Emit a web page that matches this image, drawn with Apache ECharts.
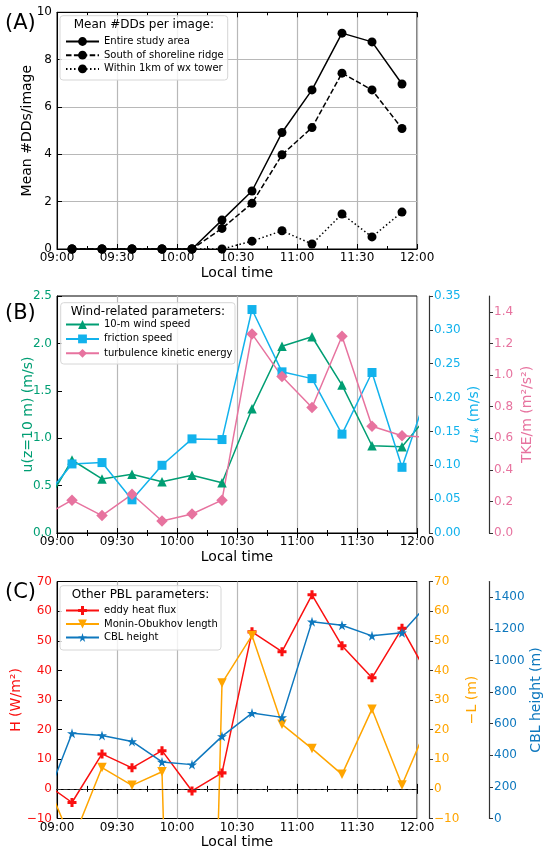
<!DOCTYPE html>
<html>
<head>
<meta charset="utf-8">
<script src="https://cdn.jsdelivr.net/npm/echarts@6/dist/echarts.min.js"></script>
<style>
  html, body { margin: 0; padding: 0; background: #fff; }
  #chart { width: 550px; height: 859px; }
</style>
</head>
<body>
<div id="chart"></div>
<script>
// times in minutes after midnight (09:00 = 540)
var timesA = [547.5, 562.5, 577.5, 592.5, 607.5, 622.5, 637.5, 652.5, 667.5, 682.5, 697.5, 712.5];
var entireArea = [0, 0, 0, 0, 0, 1.22, 2.45, 4.92, 6.72, 9.12, 8.75, 6.97];
var southRidge = [0, 0, 0, 0, 0, 0.87, 1.93, 3.98, 5.13, 7.43, 6.72, 5.09];
var nearTower = [0, 0, 0, 0, 0, 0, 0.33, 0.77, 0.21, 1.48, 0.51, 1.56];

// panels B and C also have one point on each side outside the window
var timesBC = [532.5, 547.5, 562.5, 577.5, 592.5, 607.5, 622.5, 637.5, 652.5, 667.5, 682.5, 697.5, 712.5, 727.5];
var windSpeed = [0.23, 0.77, 0.57, 0.62, 0.54, 0.61, 0.53, 1.31, 1.97, 2.07, 1.56, 0.92, 0.91, 1.29];
var frictionSpeed = [0.047, 0.102, 0.104, 0.049, 0.100, 0.139, 0.138, 0.330, 0.238, 0.228, 0.146, 0.237, 0.097, 0.228];
var tke = [0.10, 0.208, 0.11, 0.245, 0.076, 0.12, 0.208, 1.26, 0.99, 0.794, 1.245, 0.676, 0.615, 0.605];
var heatFlux = [2.6, -4.6, 11.8, 7.1, 12.9, -0.7, 5.4, 53.0, 46.3, 65.5, 48.3, 37.5, 54.2, 36.0];
var negL = [6, -18, 7.2, 1.2, 5.8, -350, 35.7, 51.8, 21.8, 13.6, 4.9, 26.9, 1.3, 25.0];
var cblHeight = [51, 539, 526, 488, 358, 341, 520, 667, 640, 1246, 1223, 1156, 1176, 1386];

var tkeTicks = [0, 0.2, 0.4, 0.6, 0.8, 1.0, 1.2, 1.4];
var cblTicks = [0, 200, 400, 600, 800, 1000, 1200, 1400];

var FONT = 'DejaVu Sans';
var GREEN = '#009E73', CYAN = '#12B2EC', PINK = '#E7739F';
var RED = '#FA1010', ORANGE = '#FFA500', BLUE = '#0E78BE';

var STAR = 'path://M50,0 L61,35 L98,35 L68,57 L79,91 L50,70 L21,91 L32,57 L2,35 L39,35 Z';
var PLUS = 'path://M33,0H67V33H100V67H67V100H33V67H0V33H33Z';

function pairs(xs, ys) {
  return xs.map(function (x, i) { return [x, ys[i]]; });
}
function fmtTime(v) {
  var h = Math.floor(v / 60), m = Math.round(v % 60);
  return (h < 10 ? '0' : '') + h + ':' + (m < 10 ? '0' : '') + m;
}
function minus(s) { return String(s).replace('-', '\u2212'); }

var grids = [
  { left: 57, right: 133, top: 12.3, height: 236.7 },
  { left: 57, right: 133, top: 296, height: 237 },
  { left: 57, right: 133, top: 581.5, height: 237 }
];
grids.forEach(function (g) {
  g.show = true; g.borderColor = '#000'; g.borderWidth = 1; g.backgroundColor = 'transparent';
  g.containLabel = false; g.outerBoundsMode = 'none';
});

var xAxes = [];
[0, 1, 2].forEach(function (gi) {
  xAxes.push({
    type: 'value', gridIndex: gi, min: 540, max: 720, interval: 30,
    axisLine: { lineStyle: { color: '#000', width: 1 } },
    axisTick: { inside: true, length: 5, lineStyle: { color: '#000' } },
    minorTick: { show: true, splitNumber: 2, length: 3, lineStyle: { color: '#000' } },
    axisLabel: { formatter: fmtTime, color: '#000', fontSize: 12, margin: 3, fontFamily: FONT },
    splitLine: { show: true, lineStyle: { color: '#b8b8b8', width: 1.2 } },
    name: 'Local time', nameLocation: 'middle', nameGap: 17, nameMoveOverlap: false,
    nameTextStyle: { fontSize: 14, color: '#000', fontFamily: FONT }
  });
  xAxes.push({
    type: 'value', gridIndex: gi, min: 540, max: 720, interval: 30, position: 'top',
    axisLine: { lineStyle: { color: '#000', width: 1 } },
    axisTick: { inside: true, length: 5, lineStyle: { color: '#000' } },
    minorTick: { show: true, splitNumber: 2, length: 3, lineStyle: { color: '#000' } },
    axisLabel: { show: false }, splitLine: { show: false }
  });
});

function leftAxis(gi, min, max, interval, color, name, gap, digits, grid) {
  return {
    type: 'value', gridIndex: gi, position: 'left', min: min, max: max, interval: interval,
    axisLine: { show: true, lineStyle: { color: '#000', width: 1 } },
    axisTick: { show: true, inside: true, length: 5, lineStyle: { color: '#000' } },
    axisLabel: {
      color: color, fontSize: 12, margin: 5, fontFamily: FONT,
      formatter: function (v) { return minus(v.toFixed(digits)); }
    },
    splitLine: { show: grid, lineStyle: { color: '#b8b8b8', width: 1.2 } },
    name: name, nameLocation: 'middle', nameGap: gap, nameMoveOverlap: false,
    nameTextStyle: { fontSize: 14, color: color, fontFamily: FONT }
  };
}
function rightAxis(gi, min, max, interval, color, name, gap, offset, digits, ticks) {
  var ax = {
    type: 'value', gridIndex: gi, position: 'right', offset: offset, min: min, max: max, interval: interval,
    axisLine: { show: true, lineStyle: { color: '#333', width: 1.2 } },
    axisTick: { show: true, length: 4, lineStyle: { color: '#333' } },
    axisLabel: {
      color: color, fontSize: 12, margin: 5, fontFamily: FONT,
      formatter: function (v) { return minus(v.toFixed(digits)); }
    },
    splitLine: { show: false },
    name: name, nameLocation: 'middle', nameGap: gap, nameMoveOverlap: false,
    nameTextStyle: { fontSize: 14, color: color, fontFamily: FONT }
  };
  if (ticks) {
    ax.axisTick.customValues = ticks;
    ax.axisLabel.customValues = ticks;
  }
  return ax;
}

var yAxes = [
  leftAxis(0, 0, 10, 2, '#000', 'Mean #DDs/image', 23, 0, true),
  leftAxis(1, 0, 2.5, 0.5, GREEN, 'u(z=10 m) (m/s)', 22, 1, false),
  rightAxis(1, 0, 0.35, 0.05, CYAN, '', 38, 12, 2, null),
  rightAxis(1, 0, 1.5, 0.2, PINK, 'TKE/m (m\u00b2/s\u00b2)', 31, 72, 1, tkeTicks),
  leftAxis(2, -10, 70, 10, RED, 'H (W/m\u00b2)', 34, 0, false),
  rightAxis(2, -10, 70, 10, ORANGE, '\u2212L (m)', 36, 12, 0, null),
  rightAxis(2, 0, 1500, 200, BLUE, 'CBL height (m)', 40, 72, 0, cblTicks)
];
// u* label with italic u and subscript star
yAxes[2].name = '{i|u}{s|\u2217}{n| (m/s)}';
yAxes[2].nameTextStyle.rich = {
  i: { fontSize: 14, fontStyle: 'italic', color: CYAN, fontFamily: FONT },
  s: { fontSize: 9, color: CYAN, fontFamily: FONT, verticalAlign: 'bottom' },
  n: { fontSize: 14, color: CYAN, fontFamily: FONT }
};

function lineSeries(name, xi, yi, data, color, symbol, size, dash, extra) {
  var s = {
    name: name, type: 'line', xAxisIndex: xi, yAxisIndex: yi, data: data,
    symbol: symbol, symbolSize: size, showAllSymbol: true, clip: true,
    lineStyle: { color: color, width: 1.5, type: dash || 'solid' },
    itemStyle: { color: color, borderWidth: 0 },
    emphasis: { disabled: true }
  };
  if (extra) { for (var k in extra) s[k] = extra[k]; }
  return s;
}

var series = [
  lineSeries('Entire study area', 0, 0, pairs(timesA, entireArea), '#000', 'circle', 9, 'solid'),
  lineSeries('South of shoreline ridge', 0, 0, pairs(timesA, southRidge), '#000', 'circle', 9, [5.5, 2.4]),
  lineSeries('Within 1km of wx tower', 0, 0, pairs(timesA, nearTower), '#000', 'circle', 9, [1.5, 2.5]),

  lineSeries('10-m wind speed', 2, 1, pairs(timesBC, windSpeed), GREEN, 'triangle', 9.5),
  lineSeries('friction speed', 2, 2, pairs(timesBC, frictionSpeed), CYAN, 'rect', 9),
  lineSeries('turbulence kinetic energy', 2, 3, pairs(timesBC, tke), PINK, 'diamond', 11.5),

  lineSeries('eddy heat flux', 4, 4, pairs(timesBC, heatFlux), RED, PLUS, 9, 'solid', {
    markLine: {
      silent: true, symbol: ['none', 'none'], label: { show: false },
      lineStyle: { color: '#333', type: [4, 2.5], width: 1.2 },
      data: [{ yAxis: 0 }]
    }
  }),
  lineSeries('Monin-Obukhov length', 4, 5, pairs(timesBC, negL), ORANGE, 'triangle', 9.5, 'solid', { symbolRotate: 180 }),
  lineSeries('CBL height', 4, 6, pairs(timesBC, cblHeight), BLUE, STAR, 10)
];

function legendFor(names, top, gap) {
  return {
    data: names, orient: 'vertical', left: 65, top: top, itemGap: gap,
    itemWidth: 33, itemHeight: 11, padding: 0, z: 6,
    textStyle: { fontSize: 10, color: '#000', fontFamily: FONT },
    selectedMode: false
  };
}

var boxes = [
  { x: 60, y: 15.7, w: 167.7, h: 64.3, title: 'Mean #DDs per image:', ty: 25.3 },
  { x: 60.7, y: 302.7, w: 174.3, h: 61.3, title: 'Wind-related parameters:', ty: 311.5 },
  { x: 60, y: 585.7, w: 161, h: 64.3, title: 'Other PBL parameters:', ty: 595.3 }
];
var graphics = [];
boxes.forEach(function (b) {
  graphics.push({
    type: 'rect', z: 5, silent: true,
    shape: { x: b.x, y: b.y, width: b.w, height: b.h, r: 3 },
    style: { fill: 'rgba(255,255,255,0.8)', stroke: '#d6d6d6', lineWidth: 1 }
  });
  graphics.push({
    type: 'text', z: 7, silent: true,
    style: { text: b.title, x: b.x + b.w / 2, y: b.ty, align: 'center', verticalAlign: 'middle',
      font: '12px "DejaVu Sans"', fill: '#000' }
  });
});
[['(A)', 24], ['(B)', 314], ['(C)', 593]].forEach(function (p) {
  graphics.push({
    type: 'text', z: 7, silent: true,
    style: { text: p[0], x: 5, y: p[1], align: 'left', verticalAlign: 'middle',
      font: '21px "DejaVu Sans"', fill: '#000' }
  });
});

var myChart = echarts.init(document.getElementById('chart'), null, { renderer: 'canvas' });
var option = {
  animation: false,
  textStyle: { fontFamily: FONT },
  grid: grids,
  xAxis: xAxes,
  yAxis: yAxes,
  legend: [
    legendFor(['Entire study area', 'South of shoreline ridge', 'Within 1km of wx tower'], 36.5, 3.7),
    legendFor(['10-m wind speed', 'friction speed', 'turbulence kinetic energy'], 319.5, 4.4),
    legendFor(['eddy heat flux', 'Monin-Obukhov length', 'CBL height'], 605.5, 3.5)
  ],
  graphic: graphics,
  series: series
};
myChart.setOption(option);
</script>
</body>
</html>
